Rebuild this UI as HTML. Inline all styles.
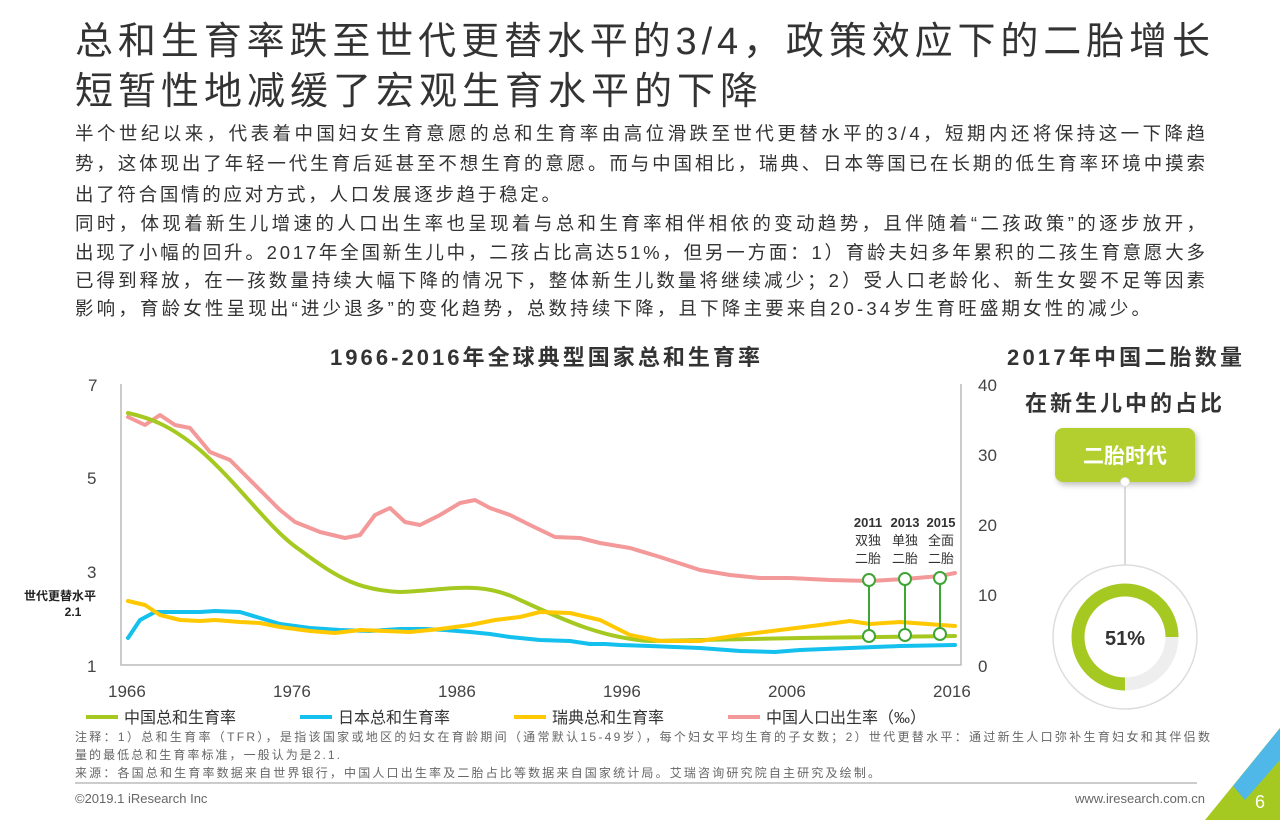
<!DOCTYPE html>
<html><head><meta charset="utf-8"><style>
body{margin:0;width:1280px;height:820px;overflow:hidden;background:#fff;font-family:"Liberation Sans","Noto Sans CJK SC",sans-serif;}
</style></head><body>
<svg width="1280" height="820" style="position:absolute;left:0;top:0" font-family="Liberation Sans,Noto Sans CJK SC,sans-serif">
<g fill="#333" font-size="38">
<text x="75" y="54" textLength="1135" lengthAdjust="spacing">总和生育率跌至世代更替水平的3/4，政策效应下的二胎增长</text>
<text x="75" y="104" textLength="683" lengthAdjust="spacing">短暂性地减缓了宏观生育水平的下降</text>
</g>
<g fill="#333" font-size="18.5">
<text x="75" y="140" textLength="1130" lengthAdjust="spacing">半个世纪以来，代表着中国妇女生育意愿的总和生育率由高位滑跌至世代更替水平的3/4，短期内还将保持这一下降趋</text>
<text x="75" y="170" textLength="1130" lengthAdjust="spacing">势，这体现出了年轻一代生育后延甚至不想生育的意愿。而与中国相比，瑞典、日本等国已在长期的低生育率环境中摸索</text>
<text x="75" y="201" textLength="485" lengthAdjust="spacing">出了符合国情的应对方式，人口发展逐步趋于稳定。</text>
<text x="75" y="230" textLength="1130" lengthAdjust="spacing">同时，体现着新生儿增速的人口出生率也呈现着与总和生育率相伴相依的变动趋势，且伴随着“二孩政策”的逐步放开，</text>
<text x="75" y="259" textLength="1130" lengthAdjust="spacing">出现了小幅的回升。2017年全国新生儿中，二孩占比高达51%，但另一方面：1）育龄夫妇多年累积的二孩生育意愿大多</text>
<text x="75" y="287" textLength="1130" lengthAdjust="spacing">已得到释放，在一孩数量持续大幅下降的情况下，整体新生儿数量将继续减少；2）受人口老龄化、新生女婴不足等因素</text>
<text x="75" y="315" textLength="1075" lengthAdjust="spacing">影响，育龄女性呈现出“进少退多”的变化趋势，总数持续下降，且下降主要来自20-34岁生育旺盛期女性的减少。</text>
</g>
<text x="330" y="365" font-size="22" font-weight="bold" fill="#333" textLength="430" lengthAdjust="spacing">1966-2016年全球典型国家总和生育率</text>
<text x="1007" y="365" font-size="22" font-weight="bold" fill="#333" textLength="235" lengthAdjust="spacing">2017年中国二胎数量</text>
<text x="1025" y="411" font-size="22" font-weight="bold" fill="#333" textLength="197" lengthAdjust="spacing">在新生儿中的占比</text>
<g fill="#444" font-size="17">
<text x="88" y="391">7</text><text x="87" y="484">5</text><text x="87" y="578">3</text><text x="87" y="672">1</text>
<text x="978" y="391">40</text><text x="978" y="461">30</text><text x="978" y="531">20</text><text x="978" y="601">10</text><text x="978" y="672">0</text>
<text x="108" y="697">1966</text><text x="273" y="697">1976</text><text x="438" y="697">1986</text><text x="603" y="697">1996</text><text x="768" y="697">2006</text><text x="933" y="697">2016</text>
</g>
<text x="60" y="600" font-size="12" font-weight="bold" fill="#222" text-anchor="middle">世代更替水平</text>
<text x="73" y="616" font-size="12" font-weight="bold" fill="#222" text-anchor="middle">2.1</text>
<path d="M121,384 V665 H961 V384" fill="none" stroke="#bbb" stroke-width="1.5"/>
<g fill="none" stroke-width="4" stroke-linejoin="round" stroke-linecap="round">
<path stroke="#f4999a" d="M128,417 L145,425 L160,415 L175,425 L190,428 L210,452 L230,460 L245,475 L265,495 L280,510 L295,522 L320,532 L345,538 L360,535 L375,515 L390,508 L405,522 L420,525 L440,515 L460,503 L475,500 L490,508 L510,515 L530,525 L555,537 L580,538 L600,543 L630,548 L660,557 L700,570 L730,575 L760,578 L790,578 L830,580 L870,581 L905,579 L940,576 L955,573"/>
<path stroke="#a6c921" d="M128,413 C150,418 170,425 200,450 C240,485 270,530 300,550 C340,580 360,590 400,592 C450,590 480,580 520,600 C560,618 600,638 650,641 L800,638 L955,636"/>
<path stroke="#13c0ee" d="M128,638 L140,620 L155,612 L180,612 L200,612 L215,611 L240,612 L260,618 L280,624 L310,628 L340,630 L370,631 L400,629 L425,629 L445,630 L470,632 L490,634 L510,637 L540,640 L570,641 L590,644 L605,644 L620,645 L650,646 L700,648 L740,651 L775,652 L800,650 L850,648 L900,646 L955,645"/>
<path stroke="#ffc800" d="M128,601 L145,605 L160,615 L180,620 L200,621 L215,620 L240,622 L260,623 L280,627 L310,631 L335,633 L360,630 L385,631 L410,632 L440,629 L470,625 L495,620 L520,617 L540,612 L570,613 L600,620 L630,635 L660,641 L700,641 L740,635 L780,630 L820,625 L850,621 L870,624 L900,622 L955,626"/>
</g>
<g stroke="#3fa535" stroke-width="2" fill="#fff">
<line x1="869" y1="580" x2="869" y2="636"/><line x1="905" y1="580" x2="905" y2="636"/><line x1="940" y1="578" x2="940" y2="634"/>
<circle cx="869" cy="580" r="6"/><circle cx="869" cy="636" r="6"/><circle cx="905" cy="579" r="6"/><circle cx="905" cy="635" r="6"/><circle cx="940" cy="578" r="6"/><circle cx="940" cy="634" r="6"/>
</g>
<g font-size="13" fill="#333" text-anchor="middle">
<text x="868" y="527" font-weight="bold">2011</text><text x="905" y="527" font-weight="bold">2013</text><text x="941" y="527" font-weight="bold">2015</text>
<text x="868" y="545">双独</text><text x="905" y="545">单独</text><text x="941" y="545">全面</text>
<text x="868" y="563">二胎</text><text x="905" y="563">二胎</text><text x="941" y="563">二胎</text>
</g>
<g font-size="16" fill="#333">
<line x1="86" y1="717" x2="118" y2="717" stroke="#a6c921" stroke-width="4"/><text x="124" y="723">中国总和生育率</text>
<line x1="300" y1="717" x2="332" y2="717" stroke="#13c0ee" stroke-width="4"/><text x="338" y="723">日本总和生育率</text>
<line x1="514" y1="717" x2="546" y2="717" stroke="#ffc800" stroke-width="4"/><text x="552" y="723">瑞典总和生育率</text>
<line x1="728" y1="717" x2="760" y2="717" stroke="#f4999a" stroke-width="4"/><text x="766" y="723">中国人口出生率（‰）</text>
</g>
<g font-size="12" fill="#666">
<text x="75" y="741" textLength="1135" lengthAdjust="spacing">注释：1）总和生育率（TFR），是指该国家或地区的妇女在育龄期间（通常默认15-49岁），每个妇女平均生育的子女数；2）世代更替水平：通过新生人口弥补生育妇女和其伴侣数</text>
<text x="75" y="759" textLength="265" lengthAdjust="spacing">量的最低总和生育率标准，一般认为是2.1.</text>
<text x="75" y="777" textLength="805" lengthAdjust="spacing">来源：各国总和生育率数据来自世界银行，中国人口出生率及二胎占比等数据来自国家统计局。艾瑞咨询研究院自主研究及绘制。</text>
</g>
<line x1="75" y1="783" x2="1197" y2="783" stroke="#999" stroke-width="1"/>
<text x="75" y="803" font-size="13" fill="#666">©2019.1 iResearch Inc</text>
<text x="1205" y="803" font-size="13" fill="#666" text-anchor="end">www.iresearch.com.cn</text>
<polygon points="1280,728 1280,820 1205,820" fill="#a6c921"/>
<polygon points="1280,728 1233,786 1245,800 1280,760" fill="#4fb8e8"/>
<text x="1255" y="808" font-size="18" fill="#fff">6</text>
<rect x="1055" y="428" width="140" height="54" rx="8" fill="#b2cf2f" style="filter:drop-shadow(2px 3px 3px rgba(0,0,0,.25))"/>
<text x="1125" y="463" font-size="21" font-weight="bold" fill="#fff" text-anchor="middle">二胎时代</text>
<line x1="1125" y1="482" x2="1125" y2="565" stroke="#ccc" stroke-width="1.5"/>
<circle cx="1125" cy="482" r="4.5" fill="#fff" stroke="#ddd"/>
<circle cx="1125" cy="637" r="72" fill="#fff" stroke="#ddd" stroke-width="1.5"/>
<circle cx="1125" cy="637" r="47" fill="none" stroke="#eee" stroke-width="13"/>
<path d="M1125,684 A47,47 0 1,1 1172,637" fill="none" stroke="#a6c921" stroke-width="13"/>
<text x="1125" y="645" font-size="20" font-weight="bold" fill="#333" text-anchor="middle">51%</text>
</svg>
</body></html>
